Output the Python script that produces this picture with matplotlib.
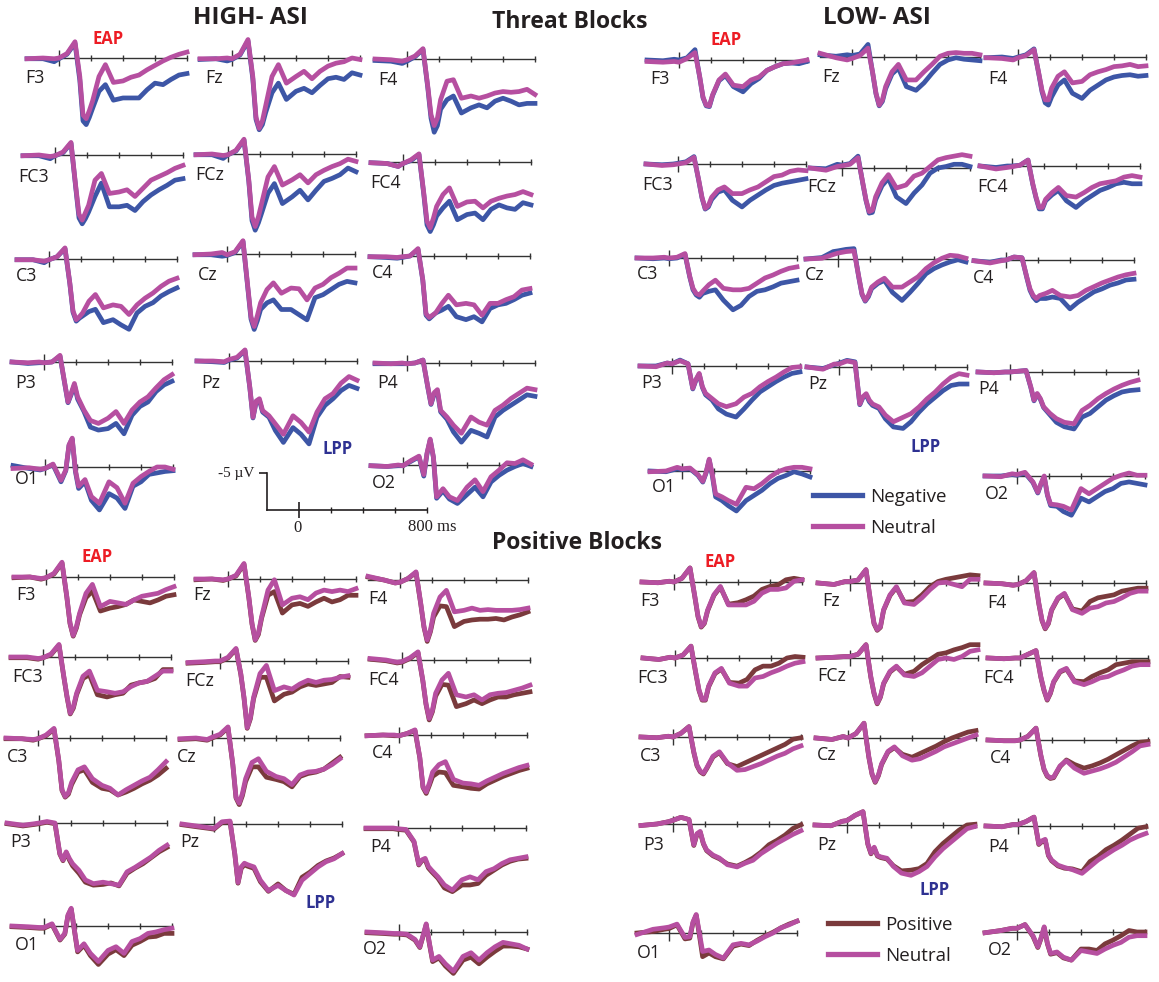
import matplotlib
matplotlib.use("Agg")
import matplotlib.pyplot as plt

TIMES = [-200, -100, -30, 0, 50, 100, 130, 150, 170, 190, 210, 250, 290, 340,
         400, 450, 500, 550, 600, 650, 700, 750, 800]
ELECTRODES = ["F3", "Fz", "F4", "FC3", "FCz", "FC4", "C3", "Cz", "C4",
              "P3", "Pz", "P4", "O1", "O2"]

# Threat blocks, HIGH-ASI
high_threat_neg = {
    "F3": [0.1, 0.1, 0.5, 0.1, -0.5, -2.0, 3.0, 8.5, 9.0, 8.0, 6.8, 4.5, 3.6, 5.7, 5.4, 5.4, 5.4, 4.3, 3.4, 3.6, 2.9, 2.3, 2.1],
    "Fz": [0.2, 0.1, 0.4, 0.2, -0.4, -2.3, 2.8, 8.3, 9.7, 9.0, 7.4, 4.7, 3.4, 5.6, 4.5, 4.1, 4.7, 3.7, 2.8, 2.6, 2.9, 2.0, 2.3],
    "F4": [0.2, 0.3, 0.6, 0.3, -0.3, -1.3, 3.9, 8.0, 9.9, 9.0, 6.8, 5.5, 5.0, 7.3, 6.6, 6.2, 6.6, 5.7, 5.3, 5.7, 6.2, 6.0, 6.0],
    "FC3": [0.1, 0.1, 0.5, 0.1, -0.3, -1.6, 4.5, 8.5, 9.3, 8.6, 7.7, 5.6, 3.8, 7.0, 7.0, 6.8, 7.5, 6.3, 5.4, 4.7, 4.1, 3.4, 3.2],
    "FCz": [0.1, 0.1, 0.6, 0.1, -0.4, -1.9, 3.7, 9.0, 10.3, 9.3, 8.0, 5.3, 4.0, 6.7, 5.8, 4.9, 6.2, 4.9, 3.7, 3.3, 2.8, 1.9, 2.4],
    "FC4": [0.1, 0.2, 0.6, 0.2, -0.2, -1.0, 4.4, 8.5, 9.4, 8.5, 7.3, 6.2, 5.3, 7.8, 7.1, 6.9, 7.8, 6.4, 5.8, 6.2, 6.4, 5.5, 5.8],
    "C3": [0.1, 0.1, 0.5, 0.1, -0.3, -1.4, 3.3, 7.2, 8.4, 8.0, 7.7, 7.1, 6.8, 8.6, 8.2, 8.9, 9.5, 7.3, 6.4, 5.9, 5.0, 4.4, 3.9],
    "Cz": [0.1, 0.1, 0.3, 0.2, -0.2, -1.7, 4.6, 8.8, 10.2, 9.0, 7.5, 6.6, 6.2, 7.5, 7.5, 8.2, 8.9, 5.9, 5.5, 4.8, 4.1, 3.7, 3.9],
    "C4": [0.1, 0.2, 0.3, 0.2, 0.0, -0.9, 3.3, 8.0, 8.5, 8.1, 7.7, 7.3, 6.8, 8.2, 8.6, 8.2, 8.9, 7.1, 6.6, 6.4, 5.9, 5.3, 5.0],
    "P3": [0.0, 0.2, 0.1, 0.1, 0.0, -0.8, 3.0, 5.5, 4.4, 3.1, 5.0, 6.7, 8.8, 9.2, 9.0, 8.3, 9.7, 7.2, 6.0, 5.4, 4.0, 3.1, 2.6],
    "Pz": [0.0, 0.1, 0.2, -0.1, -0.4, -1.4, 3.6, 7.7, 5.5, 5.3, 6.9, 7.6, 9.4, 11.0, 9.0, 9.9, 11.2, 7.6, 6.0, 5.1, 4.0, 3.3, 3.7],
    "P4": [0.1, 0.1, 0.1, 0.1, 0.0, -0.4, 3.3, 5.6, 4.2, 3.8, 6.6, 7.6, 9.3, 10.7, 9.1, 9.5, 10.0, 7.3, 6.4, 5.7, 5.0, 4.3, 4.5],
    "O1": [-0.2, 0.2, 0.4, 0.2, -0.3, 2.0, 0.5, -2.9, -3.8, 0.6, 2.9, 2.0, 4.5, 5.8, 3.6, 4.2, 5.6, 2.6, 2.0, 1.0, 0.8, 0.6, 0.5],
    "O2": [0.1, 0.2, 0.1, 0.1, -0.5, -1.1, 1.5, -1.5, -3.4, -1.0, 4.5, 3.5, 4.6, 5.2, 4.0, 3.0, 4.3, 2.3, 1.4, 0.7, 0.2, -0.2, 0.2],
}
high_threat_neu = {
    "F3": [0.1, 0.0, 0.1, 0.0, -0.6, -2.2, 2.5, 7.7, 8.2, 7.1, 5.8, 2.5, 0.9, 3.3, 3.1, 2.6, 2.3, 1.6, 1.0, 0.4, -0.1, -0.5, -0.8],
    "Fz": [0.1, 0.1, 0.0, 0.1, -0.5, -2.5, 2.5, 8.0, 9.5, 8.5, 6.5, 2.5, 0.9, 3.4, 2.5, 1.8, 2.8, 1.8, 1.1, 0.7, 0.5, 0.0, 0.2],
    "F4": [0.0, 0.1, 0.3, 0.1, -0.4, -1.4, 3.7, 7.5, 9.0, 8.0, 5.5, 3.0, 2.8, 5.3, 5.0, 5.3, 5.0, 4.6, 4.4, 4.5, 4.4, 4.1, 4.8],
    "FC3": [0.1, 0.0, 0.2, 0.1, -0.4, -1.7, 4.3, 8.0, 8.8, 7.8, 6.8, 3.4, 2.5, 5.2, 5.0, 4.7, 5.6, 4.5, 3.4, 2.9, 2.4, 1.8, 1.4],
    "FCz": [0.1, 0.0, 0.2, 0.1, -0.5, -2.0, 3.5, 8.5, 9.8, 8.5, 6.7, 3.1, 1.7, 4.2, 3.5, 2.8, 3.9, 2.8, 2.2, 1.7, 1.3, 0.7, 1.0],
    "FC4": [0.1, 0.2, 0.6, 0.2, -0.3, -1.1, 4.2, 8.0, 8.9, 7.6, 6.0, 4.4, 3.5, 6.0, 5.4, 5.3, 6.2, 5.3, 4.9, 4.6, 4.4, 4.0, 4.4],
    "C3": [0.1, 0.1, 0.3, 0.1, -0.3, -1.5, 3.2, 7.0, 8.2, 7.8, 7.3, 5.7, 4.8, 6.6, 6.2, 6.4, 7.5, 6.2, 5.3, 4.6, 3.7, 3.0, 2.6],
    "Cz": [0.1, 0.0, -0.2, 0.1, -0.3, -1.8, 4.4, 8.5, 9.8, 8.3, 6.6, 4.8, 3.9, 5.3, 4.6, 4.7, 6.2, 4.6, 4.1, 3.2, 2.6, 1.9, 1.9],
    "C4": [0.1, 0.1, 0.2, 0.1, 0.0, -1.0, 3.2, 7.8, 8.3, 8.0, 7.7, 6.4, 5.3, 6.6, 6.4, 6.6, 8.0, 6.4, 6.4, 5.9, 5.5, 4.6, 4.4],
    "P3": [0.0, 0.1, 0.0, 0.1, 0.0, -0.9, 2.9, 5.4, 4.2, 2.9, 4.7, 6.5, 7.9, 8.3, 7.6, 6.7, 8.3, 6.5, 5.4, 4.7, 3.5, 2.4, 1.7],
    "Pz": [0.0, 0.0, 0.1, -0.2, -0.5, -1.5, 3.5, 7.6, 5.4, 5.1, 6.7, 7.4, 8.5, 9.9, 7.4, 8.3, 9.6, 6.9, 5.1, 4.4, 3.0, 2.1, 2.6],
    "P4": [0.0, 0.1, 0.0, 0.1, 0.0, -0.4, 3.2, 5.5, 4.0, 3.6, 6.4, 7.3, 8.4, 9.5, 7.3, 8.0, 8.4, 6.4, 5.7, 4.8, 4.1, 3.4, 3.6],
    "O1": [0.2, 0.1, 0.3, 0.2, -0.4, 1.8, 0.4, -3.0, -3.9, 0.4, 2.6, 1.7, 4.0, 4.9, 2.0, 2.8, 4.9, 2.2, 1.3, 0.6, 0.0, 0.0, 0.3],
    "O2": [0.1, 0.2, 0.0, 0.1, -0.6, -1.2, 1.3, -1.6, -3.5, -1.1, 4.3, 3.2, 4.3, 4.8, 3.0, 2.0, 3.6, 1.6, 0.7, -0.3, -0.2, -0.7, -0.1],
}

# Threat blocks, LOW-ASI
low_threat_neg = {
    "F3": [0.0, 0.1, -0.1, 0.0, -0.3, -1.4, 2.4, 5.1, 6.2, 6.3, 4.8, 2.8, 2.1, 3.6, 4.3, 3.2, 2.5, 1.4, 0.9, 0.5, 0.4, 0.5, 0.2],
    "Fz": [-0.3, -0.1, -0.3, -0.2, -0.4, -1.7, 2.3, 5.0, 6.6, 6.0, 4.3, 2.3, 1.5, 4.0, 4.5, 3.5, 2.2, 1.0, 0.4, 0.1, 0.3, 0.4, 0.5],
    "F4": [0.1, 0.0, 0.2, 0.0, -0.3, -1.1, 2.3, 4.7, 6.2, 6.5, 5.4, 3.8, 3.1, 4.9, 5.6, 4.5, 3.8, 3.1, 2.7, 2.5, 2.4, 2.6, 2.5],
    "FC3": [0.0, 0.1, 0.0, -0.1, -0.3, -1.0, 2.3, 4.6, 6.1, 5.8, 4.8, 3.8, 3.5, 4.9, 5.8, 4.9, 4.2, 3.5, 2.9, 2.6, 2.4, 2.2, 2.0],
    "FCz": [0.0, 0.1, -0.5, -0.4, -0.6, -1.6, 2.1, 4.4, 6.1, 6.0, 4.3, 2.4, 1.4, 3.9, 4.8, 3.4, 2.3, 0.7, 0.0, -0.2, -0.5, -0.5, -0.2],
    "FC4": [0.0, 0.2, 0.0, 0.0, -0.1, -0.8, 2.5, 4.3, 5.8, 5.8, 4.7, 3.9, 3.3, 4.7, 5.6, 4.7, 4.0, 3.3, 2.9, 2.4, 2.2, 2.4, 2.4],
    "C3": [0.0, 0.1, 0.0, 0.1, 0.0, -0.5, 2.6, 4.3, 5.0, 5.3, 4.8, 4.5, 4.3, 5.7, 7.0, 6.4, 5.2, 4.5, 4.3, 3.9, 3.4, 3.2, 3.0],
    "Cz": [0.0, -0.2, -1.0, -1.1, -1.3, -1.4, 2.5, 4.8, 5.7, 5.1, 4.0, 3.3, 2.9, 4.5, 5.6, 4.5, 3.3, 2.0, 1.3, 0.8, 0.4, 0.1, 0.4],
    "C4": [0.1, 0.3, 0.0, 0.0, -0.4, -0.3, 2.4, 4.1, 5.0, 5.5, 5.2, 5.2, 5.0, 5.2, 6.6, 5.7, 5.0, 4.3, 3.9, 3.4, 3.1, 2.7, 2.6],
    "P3": [0.0, 0.0, -0.4, -0.3, -0.8, -0.3, 3.1, 1.9, 1.1, 2.9, 3.9, 4.6, 5.8, 6.5, 6.9, 5.8, 4.6, 3.5, 2.8, 2.1, 1.5, 1.0, 0.8],
    "Pz": [0.0, 0.2, -0.3, -0.5, -0.9, -0.7, 5.1, 4.1, 3.8, 4.7, 5.2, 5.6, 7.0, 8.1, 8.3, 7.4, 6.1, 5.0, 4.1, 3.2, 2.5, 2.3, 2.3],
    "P4": [0.0, 0.1, 0.0, 0.0, -0.1, -0.2, 2.1, 3.9, 3.0, 3.7, 4.8, 5.8, 6.8, 7.4, 7.7, 6.1, 5.6, 4.7, 3.8, 3.2, 2.7, 2.5, 2.4],
    "O1": [0.0, 0.1, -0.3, -0.2, -0.3, 0.6, 1.5, 0.3, -1.5, 0.7, 3.5, 4.0, 4.7, 5.4, 4.0, 3.3, 2.6, 1.7, 1.0, 0.6, 0.1, 0.4, 0.8],
    "O2": [0.0, 0.0, -0.2, -0.1, -0.4, 0.9, 2.3, 1.1, 0.1, 2.6, 4.0, 4.1, 4.8, 5.3, 3.0, 3.5, 2.8, 2.1, 1.7, 1.0, 0.8, 1.0, 1.2],
}
low_threat_neu = {
    "F3": [0.2, 0.3, 0.2, 0.3, -0.2, -1.0, 2.3, 5.0, 6.1, 6.2, 4.7, 2.7, 1.9, 3.4, 3.6, 2.7, 2.3, 1.4, 0.9, 0.5, 0.4, 0.2, 0.0],
    "Fz": [-0.5, 0.1, 0.4, 0.2, -0.2, -1.2, 2.2, 4.9, 6.5, 5.8, 4.0, 2.0, 1.0, 3.1, 3.1, 2.0, 1.0, -0.1, -0.5, -0.6, -0.5, -0.5, -0.3],
    "F4": [0.1, 0.2, 0.4, 0.1, -0.2, -1.0, 2.2, 4.5, 5.8, 5.8, 4.2, 2.6, 2.0, 3.5, 3.3, 2.4, 2.0, 1.7, 1.3, 1.2, 1.0, 1.3, 1.2],
    "FC3": [0.0, 0.2, 0.1, 0.0, -0.2, -0.9, 2.2, 4.5, 6.0, 5.6, 4.5, 3.5, 3.1, 4.0, 4.0, 3.5, 3.1, 2.4, 1.7, 1.5, 1.0, 0.8, 0.9],
    "FCz": [0.0, 0.3, -0.2, -0.3, -0.5, -1.4, 2.0, 4.3, 5.9, 5.7, 3.9, 2.0, 0.9, 2.7, 2.3, 1.1, 0.7, -0.2, -1.1, -1.4, -1.6, -1.8, -1.6],
    "FC4": [0.0, 0.4, 0.2, 0.1, -0.1, -0.8, 2.4, 4.2, 5.6, 5.6, 4.5, 3.6, 2.9, 4.0, 4.2, 3.6, 2.9, 2.4, 2.2, 2.0, 1.5, 1.3, 1.5],
    "C3": [0.0, 0.0, -0.1, 0.0, -0.1, -0.6, 2.5, 4.1, 4.8, 5.0, 4.5, 3.6, 3.0, 4.1, 4.3, 4.3, 4.1, 3.4, 2.7, 2.3, 1.8, 1.4, 1.2],
    "Cz": [0.0, -0.1, -0.6, -0.8, -1.0, -1.1, 2.4, 4.7, 5.6, 4.9, 3.8, 3.1, 2.6, 3.8, 3.8, 3.1, 2.4, 1.3, 0.5, -0.1, -0.5, -0.4, -0.1],
    "C4": [0.1, 0.4, 0.1, 0.0, -0.4, -0.3, 2.3, 3.9, 4.8, 5.2, 4.8, 4.5, 4.1, 4.8, 5.0, 4.8, 4.1, 3.6, 3.1, 2.7, 2.3, 2.0, 1.8],
    "P3": [0.0, 0.1, -0.4, -0.3, -0.7, -0.3, 3.0, 1.8, 1.0, 2.8, 3.7, 4.4, 5.1, 5.5, 5.1, 4.2, 3.7, 2.8, 2.1, 1.5, 0.8, 0.2, 0.1],
    "Pz": [0.0, 0.3, -0.4, -0.4, -0.8, -0.6, 5.0, 4.0, 3.6, 4.5, 5.0, 5.4, 6.5, 7.4, 6.8, 6.3, 5.4, 4.3, 3.4, 2.3, 1.4, 0.9, 1.1],
    "P4": [0.0, 0.1, 0.0, 0.0, -0.1, -0.2, 2.0, 3.8, 2.9, 3.6, 4.7, 5.6, 6.3, 6.8, 7.0, 5.2, 4.5, 3.6, 2.9, 2.3, 1.8, 1.4, 1.1],
    "O1": [0.1, 0.0, -0.5, -0.3, -0.4, 0.5, 1.4, 0.2, -1.6, 0.5, 3.1, 3.5, 4.0, 4.5, 2.2, 2.4, 1.7, 0.8, 0.1, -0.3, -0.5, -0.5, -0.3],
    "O2": [0.0, 0.1, -0.3, -0.2, -0.5, 0.8, 2.2, 1.0, 0.0, 2.5, 3.8, 3.9, 4.1, 4.6, 1.7, 2.4, 1.7, 1.0, 0.3, -0.1, -0.4, -0.1, -0.1],
}

# Positive blocks, HIGH-ASI
high_pos_pos = {
    "F3": [0.1, 0.0, 0.3, 0.1, -0.4, -1.9, 2.7, 6.3, 8.0, 6.9, 5.1, 2.8, 1.9, 4.6, 4.2, 4.0, 3.7, 3.1, 3.3, 3.5, 3.1, 2.6, 2.4],
    "Fz": [0.1, 0.0, 0.2, 0.0, -0.4, -2.0, 2.5, 6.1, 8.3, 7.5, 5.3, 2.2, 1.7, 4.6, 3.5, 3.3, 3.7, 3.1, 2.6, 3.1, 2.8, 2.2, 2.2],
    "F4": [-0.4, 0.0, 0.4, 0.3, -0.2, -1.0, 3.3, 6.4, 8.3, 7.0, 5.0, 3.5, 3.6, 6.3, 5.6, 5.4, 5.3, 5.3, 5.2, 5.4, 5.0, 4.7, 4.3],
    "FC3": [0.1, 0.1, 0.3, 0.1, -0.3, -1.6, 2.7, 5.4, 7.7, 6.9, 5.1, 2.9, 2.4, 5.1, 5.4, 5.1, 4.9, 3.8, 3.5, 3.3, 2.9, 1.7, 1.7],
    "FCz": [0.3, 0.2, 0.1, 0.1, -0.4, -1.6, 1.8, 5.0, 9.1, 7.8, 5.1, 2.2, 2.2, 5.4, 4.5, 4.2, 3.5, 3.1, 3.3, 3.1, 2.9, 2.1, 2.2],
    "FC4": [-0.1, 0.1, 0.4, 0.3, -0.2, -1.0, 2.8, 6.0, 8.1, 7.0, 4.9, 3.3, 3.4, 6.3, 5.9, 5.4, 5.9, 5.4, 5.0, 5.0, 4.7, 4.5, 4.3],
    "C3": [0.1, 0.1, 0.3, 0.1, -0.3, -1.2, 3.1, 7.1, 8.0, 7.6, 6.3, 4.6, 4.3, 6.0, 6.8, 7.0, 7.7, 7.3, 6.8, 6.2, 5.7, 5.0, 4.1],
    "Cz": [0.2, 0.1, 0.3, 0.0, -0.4, -1.4, 3.6, 8.1, 9.0, 7.8, 5.9, 3.9, 3.9, 5.3, 5.6, 5.9, 6.6, 5.2, 4.8, 4.6, 4.2, 3.4, 2.6],
    "C4": [0.1, 0.0, 0.1, 0.1, -0.2, -0.6, 3.1, 7.1, 7.9, 6.8, 5.6, 5.0, 5.1, 6.8, 7.0, 7.2, 7.3, 6.6, 6.1, 5.6, 5.2, 4.8, 4.5],
    "P3": [0.1, 0.4, 0.2, 0.1, -0.1, 0.1, 4.2, 5.1, 4.0, 5.0, 5.8, 6.8, 8.0, 8.4, 8.3, 8.1, 8.5, 6.8, 6.1, 5.5, 4.7, 3.9, 3.3],
    "Pz": [0.1, 0.4, 0.6, 0.7, -0.2, -0.3, 4.1, 8.0, 6.0, 5.5, 5.7, 6.0, 7.8, 9.1, 8.1, 9.0, 9.5, 7.2, 6.5, 5.6, 5.0, 4.6, 4.0],
    "P4": [0.1, 0.1, 0.1, 0.2, 0.3, 1.9, 5.0, 4.4, 4.3, 5.4, 5.9, 6.8, 8.1, 8.6, 7.7, 7.7, 7.5, 6.4, 5.7, 5.0, 4.5, 4.2, 4.1],
    "O1": [0.1, 0.2, 0.3, 0.3, -0.2, 1.9, 1.1, -1.4, -2.3, 0.6, 3.5, 2.6, 4.0, 5.2, 3.8, 3.2, 4.0, 2.6, 2.1, 1.5, 1.4, 1.0, 1.0],
    "O2": [0.1, 0.2, 0.3, 0.3, 0.4, 1.1, 2.1, 0.6, -1.0, 1.6, 4.0, 3.5, 4.6, 5.6, 3.8, 3.4, 4.3, 3.4, 2.6, 1.9, 1.9, 2.0, 2.3],
}
high_pos_neu = {
    "F3": [0.0, 0.0, 0.2, 0.1, -0.5, -2.0, 2.6, 6.2, 7.9, 6.7, 4.9, 2.2, 1.0, 4.0, 3.3, 3.5, 3.7, 3.1, 2.6, 2.4, 2.2, 1.7, 1.3],
    "Fz": [0.0, 0.0, 0.1, 0.0, -0.5, -2.1, 2.4, 6.0, 8.2, 7.3, 5.1, 1.5, 0.1, 3.5, 2.6, 2.4, 2.8, 1.9, 1.5, 1.7, 1.5, 1.7, 1.3],
    "F4": [-0.5, 0.0, 0.4, 0.3, -0.2, -1.1, 3.2, 6.3, 8.1, 6.8, 4.5, 2.3, 1.4, 4.3, 4.1, 3.8, 4.1, 4.0, 4.1, 4.1, 4.1, 4.0, 3.8],
    "FC3": [0.0, 0.0, 0.2, 0.1, -0.4, -1.7, 2.6, 5.3, 7.6, 6.7, 4.9, 2.6, 1.9, 4.5, 4.7, 4.9, 4.7, 4.0, 3.5, 3.3, 2.6, 1.9, 1.9],
    "FCz": [0.2, 0.1, 0.0, 0.0, -0.5, -1.7, 1.7, 4.9, 9.0, 7.6, 4.9, 1.7, 0.6, 4.0, 3.5, 3.8, 3.1, 2.6, 2.9, 2.6, 2.5, 2.2, 2.0],
    "FC4": [-0.2, 0.0, 0.3, 0.2, -0.3, -1.1, 2.7, 5.9, 7.9, 6.8, 4.5, 2.7, 1.8, 4.7, 5.0, 4.7, 5.4, 4.7, 4.5, 4.4, 4.1, 3.8, 3.4],
    "C3": [0.0, 0.1, 0.2, 0.1, -0.4, -1.3, 3.0, 7.0, 7.9, 7.4, 6.0, 4.3, 3.9, 5.5, 6.4, 6.8, 7.7, 7.0, 6.4, 5.8, 5.3, 4.3, 3.2],
    "Cz": [0.1, 0.0, 0.2, -0.1, -0.5, -1.5, 3.5, 8.0, 8.8, 7.5, 5.5, 3.3, 2.8, 4.5, 5.2, 5.5, 6.3, 5.0, 4.6, 4.5, 4.2, 3.6, 2.8],
    "C4": [0.1, 0.0, 0.0, 0.1, -0.2, -0.7, 3.0, 7.0, 7.7, 6.5, 5.0, 4.0, 3.6, 6.0, 6.5, 6.6, 6.8, 6.2, 5.7, 5.2, 4.8, 4.4, 4.1],
    "P3": [0.0, 0.3, 0.1, 0.0, -0.2, 0.0, 4.1, 5.0, 3.9, 4.8, 5.5, 6.4, 7.7, 8.2, 8.0, 8.2, 8.4, 6.6, 6.0, 5.3, 4.6, 3.7, 3.0],
    "Pz": [0.0, 0.3, 0.5, 0.6, -0.3, -0.4, 4.0, 7.9, 5.8, 5.3, 5.5, 5.8, 7.6, 9.0, 8.3, 9.0, 9.6, 7.6, 6.7, 5.8, 5.1, 4.7, 4.0],
    "P4": [0.0, 0.0, 0.0, 0.1, 0.2, 1.8, 4.9, 4.3, 4.1, 5.2, 5.7, 6.6, 7.7, 8.4, 7.0, 6.6, 7.0, 5.9, 5.5, 4.8, 4.3, 4.1, 3.9],
    "O1": [0.0, 0.1, 0.2, 0.2, -0.3, 1.8, 1.0, -1.5, -2.4, 0.5, 3.3, 2.4, 3.7, 4.8, 3.3, 2.8, 3.7, 2.1, 1.7, 1.0, 0.8, 0.5, 0.3],
    "O2": [0.0, 0.1, 0.2, 0.2, 0.3, 1.0, 2.0, 0.5, -1.1, 1.5, 3.8, 3.3, 4.3, 5.3, 3.3, 2.8, 3.8, 2.8, 2.0, 1.4, 1.6, 1.8, 2.3],
}

# Positive blocks, LOW-ASI
low_pos_pos = {
    "F3": [0.0, 0.1, -0.1, 0.0, -0.5, -1.9, 2.0, 4.7, 6.1, 5.6, 3.9, 1.8, 0.7, 3.0, 2.8, 2.4, 1.9, 1.0, 0.6, 0.4, -0.3, -0.5, -0.3],
    "Fz": [0.0, 0.2, -0.2, -0.2, -0.4, -1.8, 2.8, 5.5, 6.4, 6.0, 3.7, 1.7, 0.6, 2.6, 2.5, 1.6, 0.5, -0.2, -0.5, -0.7, -0.9, -1.1, -1.0],
    "F4": [0.0, 0.1, 0.3, 0.2, -0.3, -1.4, 2.8, 5.1, 6.2, 5.5, 3.7, 2.1, 1.5, 3.5, 3.8, 2.5, 2.0, 1.8, 1.6, 1.1, 0.9, 0.7, 0.7],
    "FC3": [0.0, 0.2, -0.1, 0.0, -0.4, -1.6, 2.1, 4.4, 5.7, 5.7, 3.9, 2.1, 1.5, 3.3, 3.4, 2.9, 1.6, 1.1, 1.1, 0.7, 0.0, -0.2, -0.1],
    "FCz": [0.0, -0.1, -0.2, -0.2, -0.5, -1.8, 2.6, 4.8, 6.2, 5.3, 3.5, 1.9, 1.2, 2.2, 1.8, 0.9, 0.2, -0.5, -0.7, -1.1, -1.4, -1.8, -1.8],
    "FC4": [0.0, 0.1, 0.0, 0.0, -0.5, -1.0, 2.6, 4.4, 5.7, 4.8, 3.3, 1.9, 1.5, 3.1, 3.2, 2.5, 2.0, 1.6, 0.9, 0.7, 0.5, 0.5, 0.5],
    "C3": [0.0, 0.1, -0.1, 0.0, -0.5, -1.4, 2.1, 3.9, 4.7, 5.0, 4.3, 2.7, 2.1, 3.6, 4.0, 3.5, 3.0, 2.5, 2.0, 1.5, 1.0, 0.3, 0.1],
    "Cz": [0.0, 0.2, -0.2, 0.0, -0.6, -2.0, 2.6, 4.9, 6.0, 5.1, 3.6, 1.9, 1.3, 2.2, 2.6, 2.1, 1.6, 1.1, 0.5, 0.0, -0.4, -0.8, -1.0],
    "C4": [0.0, 0.1, 0.1, 0.0, -0.5, -1.6, 2.1, 4.0, 4.9, 5.2, 5.1, 3.6, 2.7, 3.3, 3.8, 3.5, 3.1, 2.6, 2.0, 1.4, 0.8, 0.3, 0.2],
    "P3": [0.2, 0.0, -0.3, -0.5, -0.9, -0.6, 2.9, 1.4, 1.1, 2.7, 3.6, 4.3, 4.7, 5.4, 5.7, 5.2, 4.6, 3.8, 2.8, 2.2, 1.5, 0.6, 0.1],
    "Pz": [0.0, 0.1, -0.5, -0.6, -1.3, -1.8, 2.6, 3.9, 3.1, 4.2, 4.4, 4.6, 5.5, 6.2, 6.1, 5.9, 5.2, 3.6, 2.5, 1.6, 0.7, 0.0, -0.1],
    "P4": [0.0, 0.1, -0.2, -0.2, -0.6, -1.2, 2.5, 2.1, 1.9, 4.0, 4.7, 5.4, 5.7, 5.8, 6.2, 4.8, 4.1, 3.2, 2.6, 1.9, 1.1, 0.3, 0.1],
    "O1": [0.0, -0.2, -0.5, -0.6, -1.1, 0.8, 0.7, -1.4, -2.4, 0.3, 3.2, 2.7, 3.2, 3.5, 1.8, 1.5, 1.7, 1.0, 0.4, -0.1, -0.7, -1.2, -1.6],
    "O2": [0.1, -0.2, -0.5, -0.5, -1.0, 0.6, 2.1, 0.9, -0.6, 1.6, 3.0, 2.8, 3.5, 3.8, 2.3, 2.3, 2.5, 1.6, 1.1, 0.5, -0.2, 0.0, 0.0],
}
low_pos_neu = {
    "F3": [0.0, 0.1, -0.1, 0.0, -0.5, -1.9, 1.9, 4.6, 6.0, 5.5, 3.8, 1.7, 0.6, 3.1, 3.1, 3.1, 2.6, 1.5, 1.0, 1.0, 0.8, -0.1, -0.3],
    "Fz": [0.0, 0.2, -0.2, -0.2, -0.4, -1.8, 2.7, 5.4, 6.3, 5.9, 3.6, 1.6, 0.5, 2.7, 2.9, 2.0, 0.9, 0.0, -0.1, 0.2, 0.5, -0.5, -0.5],
    "F4": [0.0, 0.1, 0.3, 0.2, -0.3, -1.4, 2.7, 5.0, 6.1, 5.4, 3.6, 2.0, 1.4, 3.6, 4.1, 3.4, 3.2, 2.7, 2.5, 2.0, 1.4, 1.1, 1.1],
    "FC3": [0.0, 0.2, -0.1, 0.0, -0.4, -1.6, 2.0, 4.3, 5.6, 5.6, 3.8, 2.0, 1.4, 3.4, 3.8, 3.8, 2.7, 2.5, 2.0, 1.6, 1.1, 0.7, 0.5],
    "FCz": [0.0, -0.1, -0.2, -0.2, -0.5, -1.8, 2.5, 4.7, 6.1, 5.2, 3.4, 1.8, 1.1, 2.3, 2.5, 2.0, 1.1, 0.2, 0.0, 0.2, -0.2, -0.9, -1.1],
    "FC4": [0.0, 0.1, 0.0, 0.0, -0.5, -1.0, 2.5, 4.3, 5.6, 4.7, 3.2, 1.8, 1.4, 3.2, 3.6, 3.2, 2.7, 2.5, 2.0, 1.6, 1.1, 0.9, 0.9],
    "C3": [0.0, 0.1, -0.1, 0.0, -0.5, -1.4, 2.0, 3.8, 4.6, 4.9, 4.2, 2.6, 2.0, 3.5, 4.5, 4.4, 4.0, 3.6, 3.1, 2.6, 2.2, 1.6, 1.2],
    "Cz": [0.0, 0.2, -0.2, 0.0, -0.6, -2.0, 2.5, 4.8, 5.9, 5.0, 3.5, 1.8, 1.2, 2.4, 3.0, 2.8, 2.3, 1.8, 1.2, 0.8, 0.4, 0.0, -0.4],
    "C4": [0.0, 0.1, 0.1, 0.0, -0.5, -1.6, 2.0, 3.9, 4.8, 5.1, 5.0, 3.5, 2.8, 3.8, 4.5, 4.2, 3.9, 3.5, 3.0, 2.3, 1.6, 0.8, 0.6],
    "P3": [0.2, 0.0, -0.3, -0.5, -0.9, -0.6, 2.8, 1.3, 1.0, 2.6, 3.5, 4.2, 4.6, 5.5, 5.8, 5.3, 4.9, 4.0, 3.3, 2.6, 2.0, 1.4, 0.9],
    "Pz": [0.0, 0.1, -0.5, -0.6, -1.3, -1.8, 2.5, 3.8, 3.0, 4.1, 4.3, 4.5, 5.6, 6.5, 6.8, 6.3, 5.6, 4.3, 3.2, 2.3, 1.4, 0.5, 0.2],
    "P4": [0.0, 0.1, -0.2, -0.2, -0.6, -1.2, 2.4, 2.0, 1.8, 3.9, 4.6, 5.3, 5.6, 5.9, 6.4, 5.5, 4.6, 3.9, 3.2, 2.6, 1.9, 1.4, 1.0],
    "O1": [0.2, -0.5, -0.7, -0.8, -1.2, 0.6, 0.5, -1.5, -2.5, 0.0, 2.5, 2.3, 2.9, 3.4, 1.6, 1.4, 1.6, 1.1, 0.5, 0.0, -0.7, -1.1, -1.6],
    "O2": [0.1, -0.2, -0.5, -0.5, -1.0, 0.5, 2.0, 0.8, -0.7, 1.5, 2.9, 2.7, 3.4, 3.8, 2.5, 2.7, 2.9, 2.3, 1.8, 1.4, 0.7, 0.5, 0.5],
}

# panel layout in pixels: (x of 0 ms, baseline y, label left x, label centre y)
HT_LAYOUT = {
    "F3": (59, 58, 25, 78), "Fz": (232, 58, 205, 78), "F4": (407, 59, 378, 80),
    "FC3": (55, 155, 18, 177), "FCz": (228, 154, 195, 175), "FC4": (403, 162, 370, 183),
    "C3": (49, 259, 16, 276), "Cz": (227, 254, 198, 275), "C4": (402, 256, 372, 273),
    "P3": (44, 362, 15, 383), "Pz": (229, 361, 201, 383), "P4": (407, 363, 377, 383),
    "O1": (45, 467, 15, 479), "O2": (403, 465, 372, 483),
}
LT_LAYOUT = {
    "F3": (679, 60, 650, 79), "Fz": (852, 57, 822, 77), "F4": (1018, 57, 988, 79),
    "FC3": (678, 164, 642, 185), "FCz": (842, 168, 807, 187), "FC4": (1012, 166, 977, 187),
    "C3": (669, 258, 637, 274), "Cz": (838, 259, 805, 275), "C4": (1006, 260, 973, 278),
    "P3": (672, 366, 641, 383), "Pz": (839, 367, 808, 384), "P4": (1010, 372, 978, 389),
    "O1": (682, 471, 652, 487), "O2": (1017, 476, 985, 494),
}
HP_LAYOUT = {
    "F3": (46, 577, 16, 595), "Fz": (228, 579, 193, 595), "F4": (400, 580, 368, 599),
    "FC3": (43, 657, 12, 677), "FCz": (220, 661, 185, 681), "FC4": (402, 660, 368, 680),
    "C3": (38, 738, 7, 757), "Cz": (212, 738, 177, 757), "C4": (399, 735, 372, 753),
    "P3": (39, 823, 10, 842), "Pz": (214, 824, 180, 842), "P4": (398, 828, 370, 847),
    "O1": (44, 926, 15, 945), "O2": (399, 932, 363, 949),
}
LP_LAYOUT = {
    "F3": (674, 582, 640, 601), "Fz": (850, 583, 822, 601), "F4": (1018, 583, 987, 603),
    "FC3": (675, 658, 637, 678), "FCz": (850, 658, 817, 676), "FC4": (1020, 658, 983, 678),
    "C3": (673, 737, 640, 756), "Cz": (848, 738, 817, 755), "C4": (1020, 740, 990, 758),
    "P3": (673, 824, 643, 845), "Pz": (847, 825, 817, 845), "P4": (1018, 826, 988, 847),
    "O1": (669, 933, 637, 953), "O2": (1017, 932, 988, 950),
}

W, H = 1159, 982
PX_MS = 0.16      # pixels per ms
PX_UV = 7.4       # pixels per microvolt
UV_TOP, UV_BOT = -5, 13

NEG_C = "#3d56a6"
NEU_C = "#b64fa0"
POS_C = "#7a3a3c"
AX_C = "#333333"
LW = 3.4

plt.rcParams['font.family'] = ['Open Sans', 'DejaVu Sans']
fig = plt.figure(figsize=(W / 100, H / 100), dpi=100)


def fx(x):
    return x / W


def fy(y):
    return 1 - y / H


def make_panel(x0, y0):
    left = x0 - 200 * PX_MS
    top = y0 + UV_TOP * PX_UV
    bottom = y0 + UV_BOT * PX_UV
    ax = fig.add_axes([fx(left), fy(bottom), 1000 * PX_MS / W, (bottom - top) / H])
    ax.set_xlim(-200, 800)
    ax.set_ylim(UV_BOT, UV_TOP)
    ax.set_facecolor('none')
    for s in ['left', 'right', 'top']:
        ax.spines[s].set_visible(False)
    ax.spines['bottom'].set_position(('data', 0))
    ax.spines['bottom'].set_color(AX_C)
    ax.spines['bottom'].set_linewidth(1.0)
    ax.set_yticks([])
    ax.set_xticks([200, 400, 600, 800])
    ax.set_xticks([0], minor=True)
    ax.tick_params(axis='x', which='major', direction='inout', length=5, width=1,
                   color=AX_C, labelbottom=False)
    ax.tick_params(axis='x', which='minor', direction='inout', length=11, width=1,
                   color=AX_C, labelbottom=False)
    return ax


def draw_group(layout, cond, neu, cond_color):
    handles = None
    for name in ELECTRODES:
        x0, y0, lx, ly = layout[name]
        ax = make_panel(x0, y0)
        l1, = ax.plot(TIMES, cond[name], color=cond_color, lw=LW, zorder=3,
                      clip_on=False, solid_joinstyle='round')
        l2, = ax.plot(TIMES, neu[name], color=NEU_C, lw=LW, zorder=4,
                      clip_on=False, solid_joinstyle='round')
        fig.text(fx(lx), fy(ly), name, ha='left', va='center', fontsize=12.8,
                 color='#231f20')
        handles = (l1, l2)
    return handles


draw_group(HT_LAYOUT, high_threat_neg, high_threat_neu, NEG_C)
h_threat = draw_group(LT_LAYOUT, low_threat_neg, low_threat_neu, NEG_C)
draw_group(HP_LAYOUT, high_pos_pos, high_pos_neu, POS_C)
h_pos = draw_group(LP_LAYOUT, low_pos_pos, low_pos_neu, POS_C)

# titles
title_kw = dict(ha='center', va='center', fontweight='bold', color='#231f20')
fig.text(fx(250), fy(18), "HIGH- ASI", fontsize=17.5, **title_kw)
fig.text(fx(570), fy(22), "Threat Blocks", fontsize=16.5, **title_kw)
fig.text(fx(877), fy(18), "LOW- ASI", fontsize=17.5, **title_kw)
fig.text(fx(577), fy(543), "Positive Blocks", fontsize=16.5, **title_kw)

# component labels
eap_kw = dict(ha='center', va='center', fontsize=12, fontweight='bold', color='#ed1c24')
lpp_kw = dict(ha='center', va='center', fontsize=12, fontweight='bold', color='#2e3192')
for (x, y) in [(108, 39), (726, 40), (97, 557), (720, 562)]:
    fig.text(fx(x), fy(y), "EAP", **eap_kw)
for (x, y) in [(338, 449), (926, 447), (321, 903), (935, 890)]:
    fig.text(fx(x), fy(y), "LPP", **lpp_kw)

# scale bar
sx0, sy0 = 299, 510
left = sx0 - 200 * PX_MS
sb = fig.add_axes([fx(left), fy(sy0 + 2 * PX_UV), 1000 * PX_MS / W, 7 * PX_UV / H])
sb.set_xlim(-200, 800)
sb.set_ylim(2, -5)
sb.set_facecolor('none')
sb.spines['right'].set_visible(False)
sb.spines['top'].set_visible(False)
sb.spines['bottom'].set_position(('data', 0))
sb.spines['left'].set_bounds(-5, 0)
for s in ['left', 'bottom']:
    sb.spines[s].set_color('#231f20')
    sb.spines[s].set_linewidth(1.2)
sb.set_yticks([-5])
sb.set_yticklabels([])
sb.tick_params(axis='y', direction='out', length=6, width=1.2, color='#231f20')
sb.set_xticks([200, 400, 600, 800])
sb.set_xticks([0], minor=True)
sb.tick_params(axis='x', which='major', direction='inout', length=5, width=1,
               color='#231f20', labelbottom=False)
sb.tick_params(axis='x', which='minor', direction='inout', length=12, width=1.2,
               color='#231f20', labelbottom=False)
serif = ['Liberation Serif', 'DejaVu Serif']
fig.text(fx(254), fy(473), "-5 \u00b5V", ha='right', va='center', fontsize=11,
         family=serif, color='#231f20')
fig.text(fx(298), fy(528), "0", ha='center', va='center', fontsize=12,
         family=serif, color='#231f20')
fig.text(fx(432), fy(527), "800 ms", ha='center', va='center', fontsize=12,
         family=serif, color='#231f20')

# legends
leg_kw = dict(loc='upper left', frameon=False, fontsize=13.5, handlelength=2.6,
              handletextpad=0.45, labelspacing=0.68, borderpad=0, borderaxespad=0)
lg1 = fig.legend(h_threat, ["Negative", "Neutral"],
                 bbox_to_anchor=(fx(813), fy(488)), **leg_kw)
lg2 = fig.legend(h_pos, ["Positive", "Neutral"],
                 bbox_to_anchor=(fx(828), fy(916)), **leg_kw)
for lg in (lg1, lg2):
    for ln in lg.get_lines():
        ln.set_linewidth(3.8)
    for t in lg.get_texts():
        t.set_color('#231f20')

fig.savefig("out.png", dpi=100)
